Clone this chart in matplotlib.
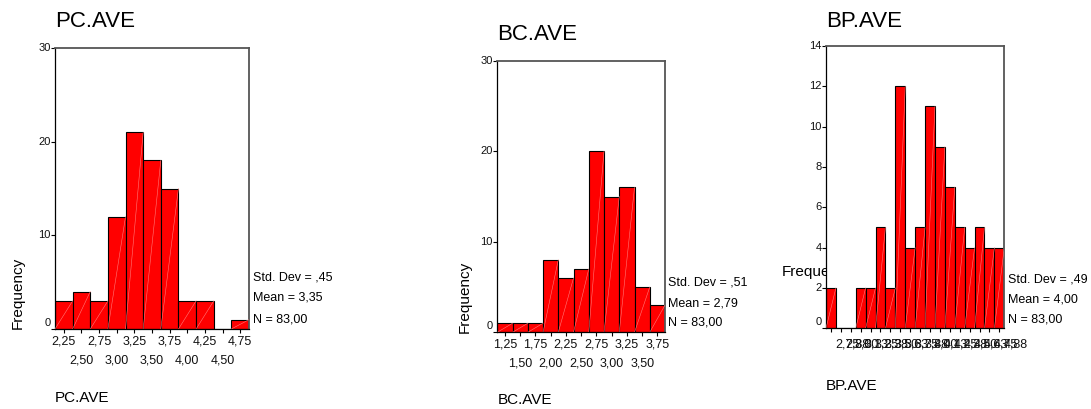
import matplotlib
matplotlib.use("Agg")
import matplotlib.pyplot as plt

plt.rcParams['font.family'] = ['Liberation Sans', 'DejaVu Sans']

# ---------------- data ----------------
pc_centers = [2.25, 2.50, 2.75, 3.00, 3.25, 3.50, 3.75, 4.00, 4.25, 4.50, 4.75]
pc_counts = [3, 4, 3, 12, 21, 18, 15, 3, 3, 0, 1]
pc_labels = ['2,25', '2,50', '2,75', '3,00', '3,25', '3,50', '3,75', '4,00', '4,25', '4,50', '4,75']
pc_yticks = [0, 10, 20, 30]
pc_stats = ['Std. Dev = ,45', 'Mean = 3,35', 'N = 83,00']

bc_centers = [1.25, 1.50, 1.75, 2.00, 2.25, 2.50, 2.75, 3.00, 3.25, 3.50, 3.75]
bc_counts = [1, 1, 1, 8, 6, 7, 20, 15, 16, 5, 3]
bc_labels = ['1,25', '1,50', '1,75', '2,00', '2,25', '2,50', '2,75', '3,00', '3,25', '3,50', '3,75']
bc_yticks = [0, 10, 20, 30]
bc_stats = ['Std. Dev = ,51', 'Mean = 2,79', 'N = 83,00']

bp_centers = [2.75, 2.875, 3.00, 3.125, 3.25, 3.375, 3.50, 3.625, 3.75,
              3.875, 4.00, 4.125, 4.25, 4.375, 4.50, 4.625, 4.75, 4.875]
bp_counts = [2, 0, 0, 2, 2, 5, 2, 12, 4, 5, 11, 9, 7, 5, 4, 5, 4, 4]
bp_labels = ['2,75', '2,88', '3,00', '3,13', '3,25', '3,38', '3,50', '3,63', '3,75',
             '3,88', '4,00', '4,13', '4,25', '4,38', '4,50', '4,63', '4,75', '4,88']
bp_yticks = [0, 2, 4, 6, 8, 10, 12, 14]
bp_stats = ['Std. Dev = ,49', 'Mean = 4,00', 'N = 83,00']

# ---------------- figure ----------------
W, H = 1091, 409
fig = plt.figure(figsize=(W / 100, H / 100), dpi=100)
fig.patch.set_facecolor('white')


def fx(x):
    return x / W


def fy(y):
    return 1 - y / H


def make_panel(box, centers, counts, labels, yticks, stats, title, title_y,
               xlabel, xlabel_y, stats_x, stats_ys, zero_dy, label_mode):
    l, t, r, b = box
    ax = fig.add_axes([fx(l), fy(b), (r - l) / W, (b - t) / H])
    w = centers[1] - centers[0]
    ax.bar(centers, counts, width=w, color='#ff0000', edgecolor='black',
           linewidth=0.8, align='center', zorder=2)
    for c, h in zip(centers, counts):
        if h > 0:
            ax.plot([c - w / 2, c + w / 2], [0, h], color='#ff7a7a', lw=0.4, zorder=3)
    ax.set_xlim(centers[0] - w / 2, centers[-1] + w / 2)
    ax.set_ylim(yticks[0], yticks[-1])
    for s in ['left', 'bottom']:
        ax.spines[s].set_color('black')
        ax.spines[s].set_linewidth(0.9)
    for s in ['top', 'right']:
        ax.spines[s].set_color('#555555')
        ax.spines[s].set_linewidth(1.3)
    ax.set_yticks(yticks)
    ax.set_yticklabels([])
    ax.set_xticks(centers)
    ax.set_xticklabels([])
    ax.tick_params(axis='both', direction='out', length=3, width=0.8, color='black')
    # y tick labels
    for v in yticks:
        dy = zero_dy if v == 0 else 0
        ax.annotate(str(v), xy=(0, v), xycoords=('axes fraction', 'data'),
                    xytext=(-3.2, dy), textcoords='offset points',
                    ha='right', va='center', fontsize=8, color='#111111')
    # x tick labels
    if label_mode == 'two_rows':
        for i, (c, lab) in enumerate(zip(centers, labels)):
            off = -9.1 if i % 2 == 0 else -22.5
            ax.annotate(lab, xy=(c, 0), xycoords=('data', 'axes fraction'),
                        xytext=(0, off), textcoords='offset points',
                        ha='center', va='center', fontsize=9, color='#111111')
    else:
        for c, lab in zip(centers, labels):
            ax.annotate(lab, xy=(c, 0), xycoords=('data', 'axes fraction'),
                        xytext=(3, -11.5), textcoords='offset points',
                        ha='left', va='center', fontsize=9, color='#111111')
    # title and bottom label
    fig.text(fx(l), fy(title_y), title, fontsize=16, ha='left', va='center')
    fig.text(fx(l), fy(xlabel_y), xlabel, fontsize=11, ha='left', va='center')
    # stats
    for s, yy in zip(stats, stats_ys):
        fig.text(fx(stats_x), fy(yy), s, fontsize=9, ha='left', va='center')
    return ax


make_panel((55, 48, 249, 329), pc_centers, pc_counts, pc_labels, pc_yticks, pc_stats,
           'PC.AVE', 21.7, 'PC.AVE', 398, 252.7, [278, 298, 320], 4.4, 'two_rows')
make_panel((497.3, 60.7, 665, 332.3), bc_centers, bc_counts, bc_labels, bc_yticks, bc_stats,
           'BC.AVE', 34.3, 'BC.AVE', 400.3, 668.3, [282.7, 303, 322.7], 4.5, 'two_rows')
make_panel((826, 46, 1004.3, 328.3), bp_centers, bp_counts, bp_labels, bp_yticks, bp_stats,
           'BP.AVE', 21.7, 'BP.AVE', 385.7, 1007.7, [279, 299, 319], 4.7, 'one_row')

# y axis labels
fig.text(fx(17.5), fy(293), 'Frequency', fontsize=11, rotation=90, ha='center', va='center')
fig.text(fx(464.5), fy(297), 'Frequency', fontsize=11, rotation=90, ha='center', va='center')
fig.text(fx(782), fy(272), 'Frequency', fontsize=11, ha='left', va='center', zorder=-1)

fig.savefig('out.png', dpi=100, facecolor='white')
